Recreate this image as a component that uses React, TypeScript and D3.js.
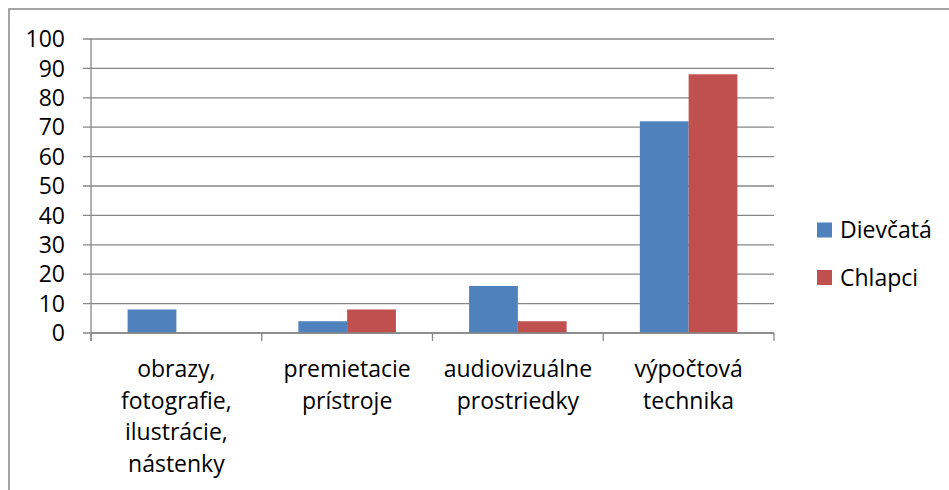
import React from 'react';
import * as d3 from 'd3';

// Chart values
const categories = [
  ['obrazy,', 'fotografie,', 'ilustrácie,', 'nástenky'],
  ['premietacie', 'prístroje'],
  ['audiovizuálne', 'prostriedky'],
  ['výpočtová', 'technika'],
];
const seriesNames = ['Dievčatá', 'Chlapci'];
const dievcata = [8, 4, 16, 72];
const chlapci = [0, 8, 4, 88];
const yTicks = [0, 10, 20, 30, 40, 50, 60, 70, 80, 90, 100];

const colors = ['#4F81BD', '#C0504D'];
const axisColor = '#878787';
const font = '"Open Sans", "Noto Sans", sans-serif';
const fontSize = 23;

const width = 949;
const height = 490;
const margin = { left: 91, right: 175, top: 39, bottom: 157 };

export default function App() {
  const keys = categories.map((c) => c.join(' '));
  const values = [dievcata, chlapci];

  const x = d3.scaleBand<string>()
    .domain(keys)
    .range([margin.left, width - margin.right])
    .paddingInner(0)
    .paddingOuter(0);

  // gap width 150% between the groups
  const xSub = d3.scaleBand<string>()
    .domain(seriesNames)
    .range([0, x.bandwidth()])
    .paddingInner(0)
    .paddingOuter(0.75);

  const y = d3.scaleLinear()
    .domain([0, 100])
    .range([height - margin.bottom, margin.top]);

  const x0 = margin.left;
  const x1 = width - margin.right;
  const yBase = y(0);

  return (
    <svg
      width={width}
      height={height}
      style={{ position: 'absolute', left: 0, top: 0, display: 'block', background: '#fff' }}
    >
      {/* outer chart frame */}
      <rect x={9} y={9} width={width + 20} height={height + 20} fill="none" stroke={axisColor} strokeWidth={1.5} />

      {/* gridlines and y ticks */}
      {yTicks.map((t) => (
        <g key={t}>
          <line x1={x0 - 8} x2={x1} y1={y(t)} y2={y(t)} stroke={axisColor} strokeWidth={1.3} />
          <text
            x={65}
            y={y(t)}
            dy="0.36em"
            textAnchor="end"
            fontFamily={font}
            fontSize={fontSize}
            fill="#000"
          >
            {t}
          </text>
        </g>
      ))}

      {/* bars */}
      {keys.map((k, i) => (
        <g key={k} transform={`translate(${x(k)},0)`}>
          {seriesNames.map((s, j) => {
            const v = values[j][i];
            if (!v) return null;
            return (
              <rect
                key={s}
                x={xSub(s)}
                y={y(v)}
                width={xSub.bandwidth()}
                height={yBase - y(v)}
                fill={colors[j]}
              />
            );
          })}
        </g>
      ))}

      {/* axes */}
      <line x1={x0} x2={x0} y1={y(100)} y2={yBase + 8} stroke={axisColor} strokeWidth={1.3} />
      <line x1={x0} x2={x1} y1={yBase} y2={yBase} stroke={axisColor} strokeWidth={1.3} />
      {[...keys.map((k) => x(k) as number), x1].map((px, i) => (
        <line key={i} x1={px} x2={px} y1={yBase} y2={yBase + 8} stroke={axisColor} strokeWidth={1.3} />
      ))}

      {/* category labels */}
      {categories.map((lines, i) => (
        <text
          key={i}
          x={(x(keys[i]) as number) + x.bandwidth() / 2}
          y={377}
          textAnchor="middle"
          fontFamily={font}
          fontSize={fontSize}
          fill="#000"
        >
          {lines.map((l, li) => (
            <tspan key={li} x={(x(keys[i]) as number) + x.bandwidth() / 2} dy={li === 0 ? 0 : 31.7}>
              {l}
            </tspan>
          ))}
        </text>
      ))}

      {/* legend */}
      {seriesNames.map((s, j) => (
        <g key={s} transform={`translate(817,${230 + j * 47.5})`}>
          <rect x={0} y={-7.5} width={15} height={15} fill={colors[j]} />
          <text x={23} y={0} dy="0.36em" fontFamily={font} fontSize={fontSize} fill="#000">
            {s}
          </text>
        </g>
      ))}
    </svg>
  );
}
